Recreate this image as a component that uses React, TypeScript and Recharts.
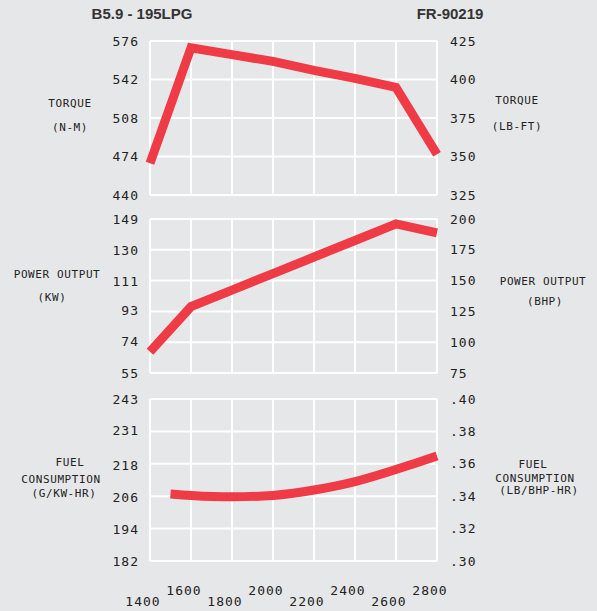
import React from 'react';
import { LineChart, Line, XAxis, YAxis, CartesianGrid } from 'recharts';

const rpmTicks = [1400, 1600, 1800, 2000, 2200, 2400, 2600, 2800];

const torqueRpm = [1400, 1600, 1800, 2000, 2200, 2400, 2600, 2800];
const torqueNm = [468, 570, 564, 558, 550, 543, 535, 476];
const torqueNmTicks = [440, 474, 508, 542, 576];
const torqueLbFtTicks = [325, 350, 375, 400, 425];

const powerRpm = [1400, 1600, 1800, 2000, 2200, 2400, 2600, 2800];
const powerKw = [68, 95.5, 105.6, 115.7, 125.8, 135.9, 146, 140.5];
const powerKwTicks = [55, 74, 93, 111, 130, 149];
const powerBhpTicks = [75, 100, 125, 150, 175, 200];

const fuelRpm = [1500, 1600, 1800, 2000, 2200, 2400, 2600, 2800];
const fuelLbBhpHr = [0.3414, 0.3405, 0.3396, 0.3405, 0.3438, 0.349, 0.3565, 0.3648];
const fuelGKwHrTicks = [182, 194, 206, 218, 231, 243];
const fuelLbTicks = [0.3, 0.32, 0.34, 0.36, 0.38, 0.4];

const torqueData = torqueRpm.map((rpm, i) => ({ rpm, value: torqueNm[i] }));
const powerData = powerRpm.map((rpm, i) => ({ rpm, value: powerKw[i] }));
const fuelData = fuelRpm.map((rpm, i) => ({ rpm, value: fuelLbBhpHr[i] }));

const RED = '#ee3b45';
const BG = '#e6e7e9';
const tickFont = { fontFamily: 'DejaVu Sans Mono', fontSize: 13, fill: '#222', letterSpacing: 1 };
const labelStyle: React.CSSProperties = {
  position: 'absolute',
  fontFamily: 'DejaVu Sans Mono',
  fontSize: 11,
  letterSpacing: 0.6,
  color: '#222',
  textAlign: 'center',
  whiteSpace: 'nowrap',
  transform: 'translate(-50%, -50%)',
  lineHeight: '12px',
};

function Label({ x, y, text }: { x: number; y: number; text: string }) {
  return <div style={{ ...labelStyle, left: x, top: y }}>{text}</div>;
}

function RpmTick(props: any) {
  const { x, y, payload } = props;
  const step = Math.round((payload.value - 1400) / 200);
  const dy = step % 2 === 0 ? 40 : 29;
  return (
    <text x={x - 7} y={y + dy} dy="0.35em" textAnchor="middle" {...tickFont}>
      {payload.value}
    </text>
  );
}

const margins = { left: 90, right: 100 };
const axisCommon = {
  type: 'number' as const,
  width: 60,
  axisLine: false,
  tickLine: false,
  tickSize: 0,
  interval: 0 as const,
  allowDataOverflow: true,
  tick: tickFont,
};

export default function App() {
  return (
    <div style={{ position: 'absolute', left: 0, top: 0, width: 597, height: 611, background: BG, overflow: 'hidden' }}>
      <div style={{ position: 'absolute', left: 142, top: 13, transform: 'translate(-50%, -50%)', fontFamily: 'Liberation Sans', fontWeight: 'bold', fontSize: 15, color: '#333', whiteSpace: 'nowrap' }}>
        B5.9 - 195LPG
      </div>
      <div style={{ position: 'absolute', left: 450, top: 13, transform: 'translate(-50%, -50%)', fontFamily: 'Liberation Sans', fontWeight: 'bold', fontSize: 15, color: '#333', whiteSpace: 'nowrap' }}>
        FR-90219
      </div>

      <div style={{ position: 'absolute', left: 0, top: 0 }}>
        <LineChart width={597} height={212} data={torqueData} margin={{ top: 41, bottom: 17, ...margins }}>
          <CartesianGrid yAxisId="right" stroke="#fff" strokeWidth={2} fill="none" />
          <XAxis dataKey="rpm" type="number" domain={[1400, 2800]} ticks={rpmTicks} hide />
          <YAxis yAxisId="left" orientation="left" domain={[440, 576]} ticks={torqueNmTicks} tickMargin={11} {...axisCommon} />
          <YAxis yAxisId="right" orientation="right" domain={[325, 425]} ticks={torqueLbFtTicks} tickMargin={13} {...axisCommon} />
          <Line yAxisId="right" dataKey="value" hide isAnimationActive={false} />
          <Line yAxisId="left" dataKey="value" stroke={RED} strokeWidth={9} strokeLinejoin="miter" strokeLinecap="butt" dot={false} type="linear" isAnimationActive={false} />
        </LineChart>
      </div>

      <div style={{ position: 'absolute', left: 0, top: 200 }}>
        <LineChart width={597} height={190} data={powerData} margin={{ top: 19, bottom: 17, ...margins }}>
          <CartesianGrid yAxisId="right" stroke="#fff" strokeWidth={2} fill="none" />
          <XAxis dataKey="rpm" type="number" domain={[1400, 2800]} ticks={rpmTicks} hide />
          <YAxis yAxisId="left" orientation="left" domain={[55, 149]} ticks={powerKwTicks} tickMargin={11} {...axisCommon} />
          <YAxis yAxisId="right" orientation="right" domain={[75, 200]} ticks={powerBhpTicks} tickMargin={13} {...axisCommon} />
          <Line yAxisId="right" dataKey="value" hide isAnimationActive={false} />
          <Line yAxisId="left" dataKey="value" stroke={RED} strokeWidth={9} strokeLinejoin="miter" strokeLinecap="butt" dot={false} type="linear" isAnimationActive={false} />
        </LineChart>
      </div>

      <div style={{ position: 'absolute', left: 0, top: 380 }}>
        <LineChart width={597} height={231} data={fuelData} margin={{ top: 19, bottom: 5, ...margins }}>
          <CartesianGrid yAxisId="right" stroke="#fff" strokeWidth={2} fill="none" />
          <XAxis dataKey="rpm" type="number" domain={[1400, 2800]} ticks={rpmTicks} interval={0} height={45} axisLine={false} tickLine={false} tickSize={0} tickMargin={0} tick={<RpmTick />} />
          <YAxis yAxisId="left" orientation="left" domain={[182, 243]} ticks={fuelGKwHrTicks} tickMargin={11} {...axisCommon} />
          <YAxis yAxisId="right" orientation="right" domain={[0.3, 0.4]} ticks={fuelLbTicks} tickMargin={13} {...axisCommon} tickFormatter={(v: number) => '.' + Math.round(v * 100)} />
          <Line yAxisId="left" dataKey="value" hide isAnimationActive={false} />
          <Line yAxisId="right" dataKey="value" stroke={RED} strokeWidth={9} strokeLinecap="butt" dot={false} type="monotone" isAnimationActive={false} />
        </LineChart>
      </div>

      <Label x={70} y={104} text="TORQUE" />
      <Label x={70} y={128} text="(N-M)" />
      <Label x={517} y={101} text="TORQUE" />
      <Label x={517} y={127} text="(LB-FT)" />

      <Label x={57} y={275} text="POWER OUTPUT" />
      <Label x={52} y={298} text="(KW)" />
      <Label x={543} y={282} text="POWER OUTPUT" />
      <Label x={545} y={302} text="(BHP)" />

      <Label x={70} y={463} text="FUEL" />
      <Label x={61} y={480} text="CONSUMPTION" />
      <Label x={64} y={494} text="(G/KW-HR)" />
      <Label x={533} y={465} text="FUEL" />
      <Label x={535} y={479} text="CONSUMPTION" />
      <Label x={539} y={491} text="(LB/BHP-HR)" />
    </div>
  );
}
